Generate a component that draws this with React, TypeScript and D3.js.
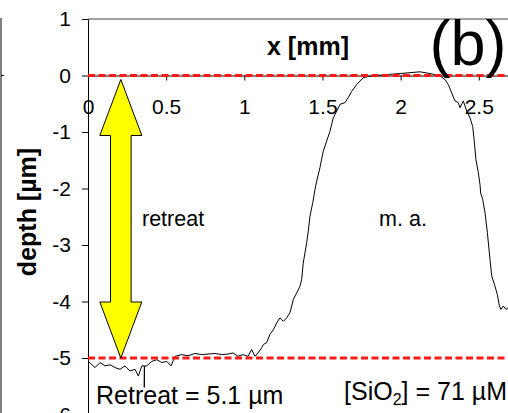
import React, { useEffect, useRef } from "react";
import * as d3 from "d3";

// axis ticks
const xTicks = [0, 0.5, 1, 1.5, 2, 2.5];
const yTicks = [1, 0, -1, -2, -3, -4, -5, -6];

// surface profile (x in mm, depth in µm)
const profileX = [
  0.002, 0.045, 0.077, 0.109, 0.141, 0.173, 0.205, 0.237, 0.269, 0.301,
  0.322, 0.344, 0.36, 0.36, 0.362, 0.376, 0.408, 0.44, 0.472, 0.504,
  0.531, 0.557, 0.599, 0.64, 0.685, 0.727, 0.768, 0.813, 0.855, 0.896,
  0.928, 0.96, 0.992, 1.024, 1.047, 1.068, 1.088, 1.111, 1.122, 1.143,
  1.164, 1.186, 1.207, 1.228, 1.25, 1.271, 1.292, 1.314, 1.335, 1.356,
  1.367, 1.377, 1.399, 1.409, 1.42, 1.438, 1.452, 1.463, 1.484, 1.505,
  1.527, 1.548, 1.569, 1.591, 1.612, 1.644, 1.665, 1.687, 1.719, 1.761,
  1.804, 1.868, 1.932, 1.996, 2.06, 2.124, 2.188, 2.252, 2.284, 2.305,
  2.327, 2.348, 2.369, 2.38, 2.401, 2.423, 2.444, 2.461, 2.47, 2.482,
  2.497, 2.508, 2.512, 2.525, 2.54, 2.555, 2.572, 2.583, 2.604, 2.619,
  2.632, 2.642, 2.657, 2.674, 2.687,
];
const profileDepth = [
  -5.06, -5.17, -5.08, -5.14, -5.12, -5.17, -5.2, -5.14, -5.23, -5.2,
  -5.32, -5.14, -5.14, -5.52, -5.14, -5.14, -5.06, -5.03, -5.08, -5.06,
  -5.14, -4.97, -4.94, -4.96, -4.92, -4.94, -4.93, -4.92, -4.94, -4.93,
  -4.91, -4.97, -4.94, -4.97, -4.85, -4.97, -4.91, -4.82, -4.76, -4.73,
  -4.58, -4.5, -4.38, -4.29, -4.35, -4.29, -4.2, -3.96, -3.85, -3.73,
  -3.61, -3.32, -2.96, -2.76, -2.49, -2.25, -2.02, -1.87, -1.63, -1.34,
  -1.16, -0.99, -0.75, -0.63, -0.51, -0.48, -0.39, -0.28, -0.16, -0.04,
  -0.01, 0.005, 0.02, 0.035, 0.05, 0.065, 0.035, -0.01, -0.07, -0.16,
  -0.31, -0.45, -0.48, -0.57, -0.45, -0.63, -0.75, -0.9, -1.13, -1.49,
  -1.72, -1.93, -2.08, -2.19, -2.43, -2.78, -3.26, -3.55, -3.73, -3.88,
  -4.08, -4.14, -4.08, -4.14, -4.11,
];

// dashed reference levels (surface and retreat floor)
const referenceLevels = [0, -5];

// double arrow marking the retreat
const arrowX = 0.21;
const arrowFrom = -0.07;
const arrowTo = -5;

const FONT = "'Liberation Sans', Arial, sans-serif";

const App = () => {
  const svgRef = useRef(null);

  useEffect(() => {
    const width = 508;
    const height = 413;

    const x = d3.scaleLinear().domain([0, 2.687]).range([88, 508]);
    const y = d3.scaleLinear().domain([-6, 1]).range([414.5, 19]);

    const svg = d3.select(svgRef.current)
      .attr("width", width)
      .attr("height", height)
      .attr("viewBox", `0 0 ${width} ${height}`);

    svg.selectAll("*").remove();

    svg.append("rect")
      .attr("width", width)
      .attr("height", height)
      .attr("fill", "white");

    // edge of the neighbouring panel
    svg.append("line")
      .attr("x1", 1).attr("x2", 1)
      .attr("y1", 18).attr("y2", height)
      .attr("stroke", "black");
    svg.append("line")
      .attr("x1", 1).attr("x2", 4)
      .attr("y1", y(0)).attr("y2", y(0))
      .attr("stroke", "black");

    // top border of the plot area
    svg.append("line")
      .attr("x1", x(0)).attr("x2", width)
      .attr("y1", y(1)).attr("y2", y(1))
      .attr("stroke", "#808080")
      .attr("stroke-width", 1.5);

    // y axis
    const yAxis = svg.append("g")
      .attr("transform", `translate(${x(0)},0)`)
      .call(d3.axisLeft(y).tickValues(yTicks).tickSize(6).tickSizeOuter(0).tickPadding(11).tickFormat((d) => String(d)));
    yAxis.selectAll("text")
      .attr("font-family", FONT)
      .attr("font-size", 21)
      .attr("fill", "black");
    yAxis.selectAll("line, path").attr("stroke", "black");

    // x axis through depth 0
    const xAxis = svg.append("g")
      .attr("transform", `translate(0,${y(0)})`)
      .call(d3.axisBottom(x).tickValues(xTicks).tickSize(5).tickSizeOuter(0).tickPadding(19).tickFormat((d) => String(d)));
    xAxis.selectAll("text")
      .attr("font-family", FONT)
      .attr("font-size", 21)
      .attr("fill", "black");
    xAxis.selectAll("line, path").attr("stroke", "black");

    // axis titles
    svg.append("text")
      .attr("x", 308)
      .attr("y", 55)
      .attr("text-anchor", "middle")
      .attr("font-family", FONT)
      .attr("font-weight", "bold")
      .attr("font-size", 25)
      .text("x [mm]");

    svg.append("text")
      .attr("transform", "translate(36,212) rotate(-90)")
      .attr("text-anchor", "middle")
      .attr("font-family", FONT)
      .attr("font-weight", "bold")
      .attr("font-size", 25)
      .text("depth [µm]");

    // profile line
    const line = d3.line()
      .x((d) => x(d[0]))
      .y((d) => y(d[1]));
    svg.append("path")
      .datum(profileX.map((v, i) => [v, profileDepth[i]]))
      .attr("d", line)
      .attr("fill", "none")
      .attr("stroke", "black")
      .attr("stroke-width", 1);

    // red dashed levels
    svg.append("g")
      .selectAll("line")
      .data(referenceLevels)
      .join("line")
      .attr("x1", x(0)).attr("x2", width)
      .attr("y1", (d) => y(d)).attr("y2", (d) => y(d))
      .attr("stroke", "#ff1a1a")
      .attr("stroke-width", 3)
      .attr("stroke-dasharray", "7,3.5");

    // yellow double arrow
    const cx = x(arrowX);
    const top = y(arrowFrom);
    const bot = y(arrowTo);
    const headW = 21;
    const headL = 56;
    const shaftW = 10.3;
    const pts = [
      [cx, top],
      [cx + headW, top + headL],
      [cx + shaftW, top + headL],
      [cx + shaftW, bot - headL],
      [cx + headW, bot - headL],
      [cx, bot],
      [cx - headW, bot - headL],
      [cx - shaftW, bot - headL],
      [cx - shaftW, top + headL],
      [cx - headW, top + headL],
    ];
    svg.append("polygon")
      .attr("points", pts.map((p) => p.join(",")).join(" "))
      .attr("fill", "#ffff00")
      .attr("stroke", "black")
      .attr("stroke-width", 1);

    // annotations
    const label = (tx, ty, txt, size, anchor) =>
      svg.append("text")
        .attr("x", tx)
        .attr("y", ty)
        .attr("text-anchor", anchor)
        .attr("font-family", FONT)
        .attr("font-size", size)
        .text(txt);

    label(142, 226, "retreat", 21.5, "start");
    label(403, 226, "m. a.", 21.5, "middle");
    label(468, 65, "(b)", 63, "middle");
    label(96, 404, "Retreat = 5.1 µm", 25, "start");

    const sio = svg.append("text")
      .attr("x", 507)
      .attr("y", 400)
      .attr("text-anchor", "end")
      .attr("font-family", FONT)
      .attr("font-size", 25);
    sio.append("tspan").text("[SiO");
    sio.append("tspan").attr("font-size", 16).attr("dy", 5).text("2");
    sio.append("tspan").attr("dy", -5).text("] = 71 µM");
  }, []);

  return (
    <svg ref={svgRef} style={{ position: "absolute", left: 0, top: 0 }}></svg>
  );
};

export default App;
